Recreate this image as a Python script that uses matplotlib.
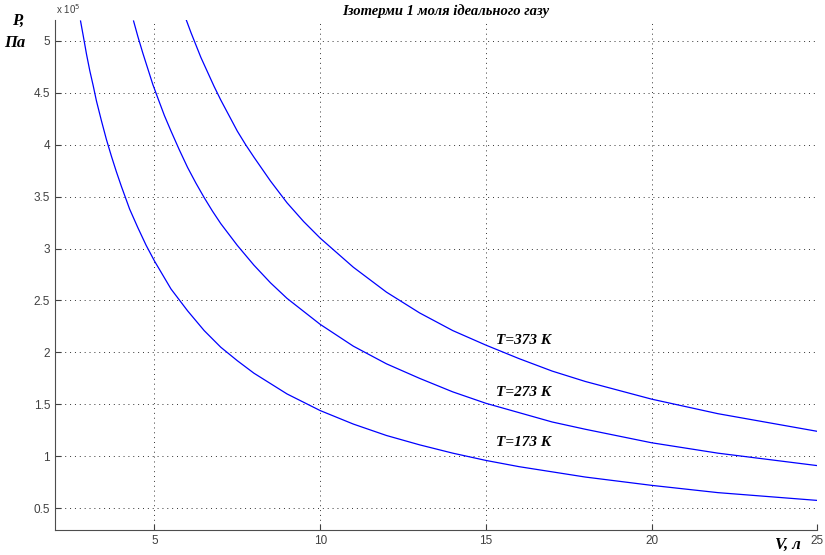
import matplotlib.pyplot as plt
from matplotlib.ticker import FuncFormatter

# isotherm readings, V in litres, P in 1e5 Pa
v173 = [2.77, 2.85, 2.95, 3.05, 3.15, 3.25, 3.4, 3.55, 3.7, 3.85, 4, 4.25, 4.5,
        4.75, 5, 5.5, 6, 6.5, 7, 7.5, 8, 9, 10, 11, 12, 13, 14, 15, 16, 17, 18,
        20, 22, 25]
p173 = [5.19, 5.05, 4.87, 4.71, 4.57, 4.42, 4.23, 4.05, 3.89, 3.74, 3.60, 3.38,
        3.20, 3.03, 2.88, 2.61, 2.40, 2.21, 2.05, 1.92, 1.80, 1.60, 1.44, 1.31,
        1.20, 1.11, 1.03, 0.96, 0.90, 0.85, 0.80, 0.72, 0.65, 0.575]

v273 = [4.37, 4.5, 4.65, 4.8, 4.95, 5.1, 5.3, 5.5, 5.75, 6, 6.25, 6.5, 6.75, 7,
        7.5, 8, 8.5, 9, 10, 11, 12, 13, 14, 15, 16, 17, 18, 20, 22, 25]
p273 = [5.19, 5.04, 4.88, 4.73, 4.58, 4.45, 4.28, 4.13, 3.95, 3.78, 3.63, 3.49,
        3.36, 3.24, 3.03, 2.84, 2.67, 2.52, 2.27, 2.06, 1.89, 1.75, 1.62, 1.51,
        1.42, 1.33, 1.26, 1.13, 1.03, 0.91]

v373 = [5.96, 6.1, 6.25, 6.4, 6.6, 6.8, 7, 7.25, 7.5, 7.75, 8, 8.5, 9, 9.5, 10,
        11, 12, 13, 14, 15, 16, 17, 18, 20, 22, 25]
p373 = [5.20, 5.08, 4.96, 4.84, 4.70, 4.56, 4.43, 4.28, 4.13, 4.00, 3.88, 3.65,
        3.44, 3.26, 3.10, 2.82, 2.58, 2.38, 2.21, 2.07, 1.94, 1.82, 1.72, 1.55,
        1.41, 1.24]

labels = ['T=373 K', 'T=273 K', 'T=173 K']
label_pos = [(15.3, 2.08), (15.3, 1.58), (15.3, 1.10)]

xticks = [5, 10, 15, 20, 25]
yticks = [0.5, 1, 1.5, 2, 2.5, 3, 3.5, 4, 4.5, 5]

serif = dict(family='Liberation Serif', weight='bold', style='italic')

fig = plt.figure(figsize=(8.25, 5.55), dpi=100)
ax = fig.add_axes([0.0667, 0.045, 0.924, 0.919])

for v, p in [(v173, p173), (v273, p273), (v373, p373)]:
    ax.plot(v, p, color='blue', lw=0.9)

ax.set_xlim(2, 25)
ax.set_ylim(0.29, 5.2)
ax.set_xticks(xticks)
ax.set_yticks(yticks)
ax.yaxis.set_major_formatter(FuncFormatter(lambda y, pos: '%g' % y))
ax.grid(True, linestyle=(0, (1, 4)), color='0.2', lw=0.7)
ax.tick_params(direction='in', length=4, labelsize=8.5, colors='0.25',
               labelfontfamily='Liberation Sans')
ax.spines['top'].set_visible(False)
ax.spines['right'].set_visible(False)
for s in ['left', 'bottom']:
    ax.spines[s].set_color('0.3')

for lab, (x, y) in zip(labels, label_pos):
    ax.text(x, y, lab, fontsize=11, **serif)

fig.text(0.54, 0.993, 'Ізотерми 1 моля ідеального газу', ha='center',
         va='top', fontsize=10.5, **serif)
fig.text(0.068, 0.972, 'x 10$^5$', fontsize=7, color='0.25', va='bottom',
         family='Liberation Sans')
fig.text(0.022, 0.962, 'P,', ha='center', va='center', fontsize=12, **serif)
fig.text(0.018, 0.922, 'Па', ha='center', va='center', fontsize=12, **serif)
fig.text(0.955, 0.003, 'V, л', ha='center', va='bottom', fontsize=12, **serif)

fig.savefig('out.png', dpi=100)
